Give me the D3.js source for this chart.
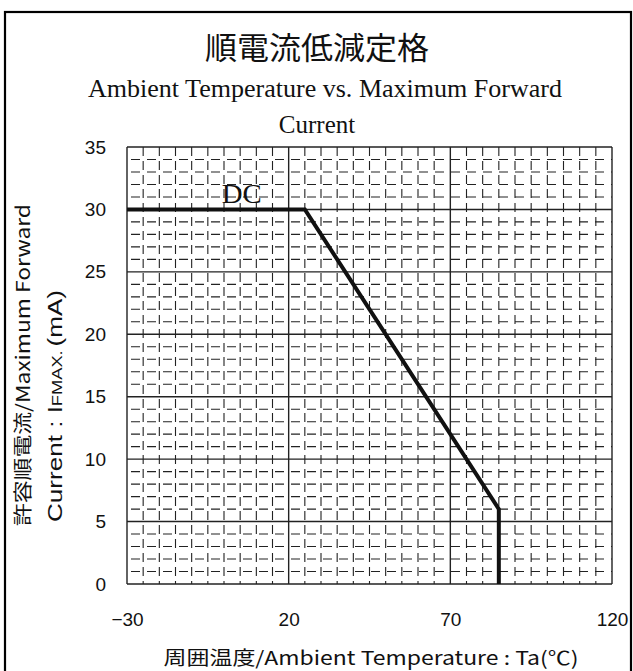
<!DOCTYPE html>
<html>
<head>
<meta charset="utf-8">
<script src="https://cdn.jsdelivr.net/npm/d3@7"></script>
<style>
  html, body { margin: 0; padding: 0; background: #fff; }
  svg { display: block; }
</style>
</head>
<body>
<svg id="chart" width="633" height="671"></svg>
<script>
// Derating curve: maximum forward current vs. ambient temperature
const temperature = [-30, 25, 85, 85];   // °C
const currentMax  = [30, 30, 6, 0];       // mA
const xTicks = [-30, 20, 70, 120];
const yTicks = [0, 5, 10, 15, 20, 25, 30, 35];
const xMinorStep = 5;
const yMinorStep = 1;
const curveLabel = "DC";

const titleJa = "順電流低減定格";
const titleEn1 = "Ambient Temperature vs. Maximum Forward";
const titleEn2 = "Current";
const xTitle = "周囲温度/Ambient Temperature : Ta(℃)";
const yTitle1 = "許容順電流/Maximum Forward";
const yTitle2 = "Current : I";

const svg = d3.select("#chart");
const plot = { left: 127, right: 612, top: 147, bottom: 584 };

const x = d3.scaleLinear().domain([-30, 120]).range([plot.left, plot.right]);
const y = d3.scaleLinear().domain([0, 35]).range([plot.bottom, plot.top]);

// outer frame
svg.append("rect")
  .attr("x", 5).attr("y", 12).attr("width", 626).attr("height", 665)
  .attr("fill", "none").attr("stroke", "#000").attr("stroke-width", 2.2);

const sans = "'Liberation Sans', Arial, sans-serif";
const serif = "'Liberation Serif', 'Times New Roman', serif";
const cjk = "'Noto Sans CJK JP', 'Noto Sans', sans-serif";

// titles
svg.append("text").attr("x", 317).attr("y", 59)
  .attr("text-anchor", "middle").attr("font-family", cjk)
  .attr("font-size", 31).attr("font-weight", 400).attr("fill", "#111")
  .attr("textLength", 224).attr("lengthAdjust", "spacingAndGlyphs")
  .text(titleJa);
svg.append("text").attr("x", 325).attr("y", 97)
  .attr("text-anchor", "middle").attr("font-family", serif)
  .attr("font-size", 25).attr("fill", "#111")
  .attr("textLength", 474).attr("lengthAdjust", "spacingAndGlyphs")
  .text(titleEn1);
svg.append("text").attr("x", 317).attr("y", 133)
  .attr("text-anchor", "middle").attr("font-family", serif)
  .attr("font-size", 25).attr("fill", "#111").text(titleEn2);

// grid
const g = svg.append("g");
const xMinor = d3.range(-30, 120 + 0.001, xMinorStep).filter(v => !xTicks.includes(v));
const yMinor = d3.range(0, 35 + 0.001, yMinorStep).filter(v => v % 5 !== 0);

g.selectAll("line.vminor").data(xMinor).join("line")
  .attr("x1", d => x(d)).attr("x2", d => x(d))
  .attr("y1", plot.top).attr("y2", plot.bottom)
  .attr("stroke", "#222").attr("stroke-width", 1.1)
  .attr("stroke-dasharray", "9,5");
g.selectAll("line.hminor").data(yMinor).join("line")
  .attr("x1", plot.left).attr("x2", plot.right)
  .attr("y1", d => y(d)).attr("y2", d => y(d))
  .attr("stroke", "#222").attr("stroke-width", 1.1)
  .attr("stroke-dasharray", "9,7").attr("stroke-dashoffset", -4);

g.selectAll("line.vmajor").data(xTicks).join("line")
  .attr("x1", d => x(d)).attr("x2", d => x(d))
  .attr("y1", plot.top).attr("y2", plot.bottom)
  .attr("stroke", "#222").attr("stroke-width", 1.4);
g.selectAll("line.hmajor").data(yTicks).join("line")
  .attr("x1", plot.left).attr("x2", plot.right)
  .attr("y1", d => y(d)).attr("y2", d => y(d))
  .attr("stroke", "#222").attr("stroke-width", 1.4);

// axes tick labels
const xAxis = d3.axisBottom(x).tickValues(xTicks).tickSize(0).tickPadding(29)
  .tickFormat(d => d < 0 ? "\u2212" + Math.abs(d) : String(d));
svg.append("g").attr("transform", `translate(0,${plot.bottom})`).call(xAxis)
  .call(s => s.select(".domain").remove())
  .selectAll("text").attr("font-family", sans).attr("font-size", 19).attr("fill", "#111");

const yAxis = d3.axisLeft(y).tickValues(yTicks).tickSize(0).tickPadding(21);
svg.append("g").attr("transform", `translate(${plot.left},0)`).call(yAxis)
  .call(s => s.select(".domain").remove())
  .selectAll("text").attr("font-family", sans).attr("font-size", 19).attr("fill", "#111");

// axis titles
svg.append("text").attr("x", 371).attr("y", 665)
  .attr("text-anchor", "middle").attr("font-family", cjk)
  .attr("font-size", 19).attr("fill", "#111")
  .attr("textLength", 415).attr("lengthAdjust", "spacingAndGlyphs")
  .text(xTitle);

svg.append("text").attr("transform", "translate(30,526) rotate(-90)")
  .attr("font-family", cjk).attr("font-size", 19).attr("fill", "#111")
  .attr("textLength", 322).attr("lengthAdjust", "spacingAndGlyphs")
  .text(yTitle1);
const t2 = svg.append("text").attr("transform", "translate(62,522) rotate(-90)")
  .attr("font-family", sans).attr("font-size", 20).attr("fill", "#111")
  .attr("textLength", 232).attr("lengthAdjust", "spacingAndGlyphs");
t2.append("tspan").text(yTitle2);
t2.append("tspan").attr("font-size", 14).text("FMAX.");
t2.append("tspan").attr("dx", 3).text("(mA)");

// curve
const pts = temperature.map((t, i) => [t, currentMax[i]]);
svg.append("path").datum(pts)
  .attr("d", d3.line().x(d => x(d[0])).y(d => y(d[1])))
  .attr("fill", "none").attr("stroke", "#111").attr("stroke-width", 4)
  .attr("stroke-linejoin", "miter");

svg.append("text").attr("x", x(5.5)).attr("y", y(30.5))
  .attr("text-anchor", "middle").attr("font-family", serif)
  .attr("font-size", 28).attr("fill", "#111")
  .attr("textLength", 40).attr("lengthAdjust", "spacingAndGlyphs")
  .text(curveLabel);
</script>
</body>
</html>
